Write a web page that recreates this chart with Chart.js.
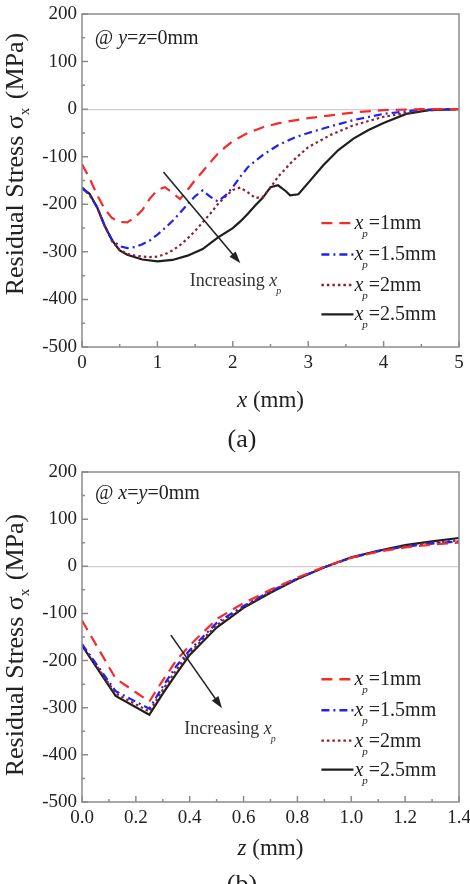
<!DOCTYPE html>
<html>
<head>
  <title>Residual stress profiles</title>
  <script src="https://cdn.jsdelivr.net/npm/chart.js"></script>
  <style>
    body { margin: 0; background: #fff; }
    #wrap { position: relative; width: 470px; height: 884px; overflow: hidden; }
    canvas { position: absolute; left: 0; }
    #chartA { top: 0; }
    #chartB { top: 440px; }
    .cap { position: absolute; left: 7px; width: 470px; text-align: center;
           font: 26px "Liberation Serif", "Times New Roman", serif; line-height: 26px; color: #222; }
  </style>
</head>
<body>
<div id="wrap">
  <canvas id="chartA" width="470" height="440"></canvas>
  <canvas id="chartB" width="470" height="444"></canvas>
  <div class="cap" style="top:426px">(a)</div>
  <div class="cap" style="top:871px">(b)</div>
</div>

<script>
  const FONT = '"Liberation Serif", "Times New Roman", serif';
  const INK = '#222';

  // (a) sigma_x along x at y=z=0, one curve per xp
  const xA1 = [0, 0.1, 0.2, 0.3, 0.4, 0.5, 0.6, 0.7, 0.8, 0.9, 1.0, 1.1, 1.2, 1.3, 1.4, 1.5, 1.6, 1.7, 1.8, 1.9, 2.0, 2.2, 2.4, 2.6, 2.8, 3.0, 3.3, 3.6, 4.0, 4.5, 5.0];
  const sA1 = [-116, -145, -180, -210, -229, -237, -238, -228, -212, -188, -170, -164, -176, -189, -170, -149, -131, -112, -94, -80, -67, -50, -38, -30, -24, -19, -13, -7, -2, 0, 0];
  const xA2 = [0, 0.1, 0.2, 0.3, 0.4, 0.5, 0.6, 0.7, 0.8, 0.9, 1.0, 1.1, 1.2, 1.3, 1.4, 1.5, 1.6, 1.7, 1.8, 1.9, 2.0, 2.1, 2.2, 2.4, 2.6, 2.8, 3.0, 3.3, 3.6, 4.0, 4.5, 5.0];
  const sA2 = [-165, -180, -206, -245, -275, -288, -292, -290, -284, -276, -264, -250, -235, -218, -200, -183, -171, -184, -194, -182, -164, -142, -122, -96, -76, -61, -50, -36, -23, -10, -1, 0];
  const xA3 = [0, 0.1, 0.2, 0.3, 0.4, 0.5, 0.6, 0.7, 0.8, 0.9, 1.0, 1.1, 1.2, 1.3, 1.4, 1.5, 1.6, 1.7, 1.8, 1.9, 2.0, 2.1, 2.2, 2.3, 2.4, 2.5, 2.6, 2.8, 3.0, 3.3, 3.6, 4.0, 4.5, 5.0];
  const sA3 = [-165, -180, -206, -245, -278, -296, -304, -308, -310, -311, -310, -305, -297, -286, -272, -256, -238, -220, -200, -184, -170, -165, -175, -187, -184, -165, -142, -108, -80, -54, -34, -16, -3, 0];
  const xA4 = [0, 0.1, 0.2, 0.3, 0.4, 0.5, 0.6, 0.8, 1.0, 1.2, 1.4, 1.6, 1.8, 2.0, 2.1, 2.2, 2.3, 2.4, 2.5, 2.6, 2.7, 2.76, 2.87, 3.0, 3.2, 3.4, 3.6, 3.8, 4.0, 4.3, 4.6, 5.0];
  const sA4 = [-166, -178, -206, -245, -276, -297, -306, -316, -320, -317, -308, -294, -270, -250, -236, -220, -202, -186, -164, -160, -172, -181, -179, -155, -118, -86, -62, -44, -29, -10, -2, 0];

  // (b) sigma_x along z at x=y=0
  const zB = [0, 0.125, 0.25, 0.3, 0.35, 0.4, 0.5, 0.6, 0.7, 0.8, 0.9, 1.0, 1.1, 1.2, 1.3, 1.4];
  const sB1 = [-115, -238, -287, -242, -200, -168, -112, -78, -50, -24, -1, 18, 31, 40, 46, 50];
  const sB2 = [-165, -265, -302, -255, -212, -178, -120, -84, -53, -26, -2, 18, 32, 42, 48, 53];
  const sB3 = [-166, -270, -308, -262, -220, -183, -125, -86, -54, -26, -2, 18, 32, 43, 50, 55];
  const sB4 = [-168, -275, -315, -270, -228, -188, -130, -88, -56, -27, -2, 19, 33, 45, 53, 60];

  const seriesNames = ['=1mm', '=1.5mm', '=2mm', '=2.5mm'];
  const seriesColors = ['#f52b2b', '#1f22f0', '#8e1f35', '#1e1e1e'];
  const seriesDash = [[11, 7], [8, 4, 2, 4], [2.5, 3], []];

  // annotation anchors in data units
  const noteA = { x: 0.17, y: 137 }, noteB = { x: 0.048, y: 142 };
  const incA = { x: 1.43, y: -372 }, incB = { x: 0.38, y: -355 };
  const arrowA = [{ x: 1.08, y: -132 }, { x: 2.1, y: -324 }];
  const arrowB = [{ x: 0.33, y: -146 }, { x: 0.52, y: -301 }];

  function pts(xs, ys) { return xs.map((x, i) => ({ x: x, y: ys[i] })); }

  function runFont(r) { return (r.it ? 'italic ' : '') + r.size + 'px ' + FONT; }
  function runsWidth(ctx, runs) {
    let w = 0;
    runs.forEach(r => { ctx.font = runFont(r); w += ctx.measureText(r.t).width + (r.gap || 0); });
    return w;
  }
  function drawRuns(ctx, x, y, runs) {
    let cx = x;
    runs.forEach(r => {
      ctx.font = runFont(r);
      ctx.fillText(r.t, cx, y + (r.dy || 0));
      cx += ctx.measureText(r.t).width + (r.gap || 0);
    });
  }
  function xpRuns(rest, size) {
    return [{ t: 'x', it: true, size: size, gap: -1 }, { t: 'p', it: true, size: 11, dy: 8, gap: 1 }, { t: rest, size: size }];
  }

  const deco = {
    id: 'deco',
    afterDraw(chart, args, o) {
      const ctx = chart.ctx, a = chart.chartArea, xs = chart.scales.x, ys = chart.scales.y;
      ctx.save();
      // frame
      ctx.strokeStyle = '#8c8c8c';
      ctx.lineWidth = 1.5;
      ctx.strokeRect(a.left, a.top, a.right - a.left, a.bottom - a.top);
      // inward ticks
      ctx.beginPath();
      ys.ticks.forEach(t => {
        const p = ys.getPixelForValue(t.value);
        const L = t.value % 100 === 0 ? 6 : 3;
        ctx.moveTo(a.left, p); ctx.lineTo(a.left + L, p);
      });
      xs.ticks.forEach(t => {
        const p = xs.getPixelForValue(t.value);
        const q = t.value / o.xMajor;
        const L = Math.abs(q - Math.round(q)) < 1e-6 ? 6 : 3;
        ctx.moveTo(p, a.bottom); ctx.lineTo(p, a.bottom - L);
      });
      ctx.stroke();

      ctx.fillStyle = INK;
      ctx.textBaseline = 'alphabetic';
      ctx.textAlign = 'left';

      // y title
      const yRuns = [{ t: 'Residual Stress σ', size: 26 }, { t: 'x', size: 15, dy: 6, gap: 2 }, { t: ' (MPa)', size: 26 }];
      ctx.save();
      ctx.translate(23, o.yTitleY);
      ctx.rotate(-Math.PI / 2);
      drawRuns(ctx, -runsWidth(ctx, yRuns) / 2, 0, yRuns);
      ctx.restore();

      // x title
      const xRuns = [{ t: o.xVar, it: true, size: 23 }, { t: ' (mm)', size: 23 }];
      drawRuns(ctx, (a.left + a.right) / 2 - runsWidth(ctx, xRuns) / 2, o.xTitleY, xRuns);

      // position note
      drawRuns(ctx, xs.getPixelForValue(o.note.x), ys.getPixelForValue(o.note.y), o.noteRuns);

      // increasing xp
      ctx.fillStyle = '#333';
      drawRuns(ctx, xs.getPixelForValue(o.inc.x), ys.getPixelForValue(o.inc.y),
        [{ t: 'Increasing ', size: 18 }, { t: 'x', it: true, size: 18, gap: -1 }, { t: 'p', it: true, size: 10, dy: 8 }]);

      // arrow
      const x0 = xs.getPixelForValue(o.arrow[0].x), y0 = ys.getPixelForValue(o.arrow[0].y);
      const x1 = xs.getPixelForValue(o.arrow[1].x), y1 = ys.getPixelForValue(o.arrow[1].y);
      const ang = Math.atan2(y1 - y0, x1 - x0);
      ctx.strokeStyle = '#222';
      ctx.fillStyle = '#222';
      ctx.lineWidth = 1.6;
      ctx.beginPath();
      ctx.moveTo(x0, y0);
      ctx.lineTo(x1 - 8 * Math.cos(ang), y1 - 8 * Math.sin(ang));
      ctx.stroke();
      ctx.beginPath();
      ctx.moveTo(x1, y1);
      ctx.lineTo(x1 - 12 * Math.cos(ang) + 4 * Math.sin(ang), y1 - 12 * Math.sin(ang) - 4 * Math.cos(ang));
      ctx.lineTo(x1 - 12 * Math.cos(ang) - 4 * Math.sin(ang), y1 - 12 * Math.sin(ang) + 4 * Math.cos(ang));
      ctx.closePath();
      ctx.fill();

      // legend
      const w = a.right - a.left, h = a.bottom - a.top;
      const rows = [0.628, 0.722, 0.814, 0.902];
      chart.data.datasets.forEach((ds, i) => {
        const ly = a.top + rows[i] * h;
        const lx0 = a.left + 0.635 * w, lx1 = a.left + 0.72 * w;
        ctx.save();
        ctx.strokeStyle = ds.borderColor;
        ctx.lineWidth = 2.4;
        ctx.setLineDash(ds.borderDash);
        ctx.beginPath();
        ctx.moveTo(lx0, ly); ctx.lineTo(lx1, ly);
        ctx.stroke();
        ctx.restore();
        ctx.fillStyle = INK;
        drawRuns(ctx, lx1 + 1, ly + 6, xpRuns(seriesNames[i], 20));
      });
      ctx.restore();
    }
  };

  function makeChart(id, lines, opt) {
    const datasets = lines.map((d, i) => ({
      label: seriesNames[i],
      data: d,
      showLine: true,
      borderColor: seriesColors[i],
      borderDash: seriesDash[i],
      borderWidth: 2.2,
      pointRadius: 0,
      tension: 0,
      fill: false,
      order: i - 4 // red drawn last, on top
    }));
    return new Chart(document.getElementById(id), {
      type: 'scatter',
      data: { datasets: datasets },
      options: {
        responsive: false,
        animation: false,
        devicePixelRatio: 1,
        layout: { padding: { top: opt.padTop, right: 11, left: 0, bottom: 0 } },
        plugins: { legend: { display: false }, tooltip: { enabled: false }, deco: opt.deco },
        scales: {
          x: {
            type: 'linear', min: opt.xMin, max: opt.xMax,
            ticks: {
              stepSize: opt.xStep, autoSkip: false, maxRotation: 0, padding: 5,
              color: INK, font: { family: FONT, size: 19 },
              callback: opt.xLabel
            },
            grid: { display: false, drawTicks: false },
            border: { display: false },
            afterFit: s => { s.height = opt.xHeight; s.paddingLeft = 0; s.paddingRight = 0; }
          },
          y: {
            min: -500, max: 200,
            ticks: {
              stepSize: 50, autoSkip: false, padding: 5,
              color: INK, font: { family: FONT, size: 19 },
              callback: v => (v % 100 === 0 ? String(v) : '')
            },
            grid: {
              drawTicks: false,
              color: c => (c.tick && c.tick.value === 0 ? '#cfcfcf' : 'rgba(0,0,0,0)'),
              lineWidth: 1.2
            },
            border: { display: false },
            afterFit: s => { s.width = 82; s.paddingTop = 0; s.paddingBottom = 0; }
          }
        }
      },
      plugins: [deco]
    });
  }

  makeChart('chartA', [pts(xA1, sA1), pts(xA2, sA2), pts(xA3, sA3), pts(xA4, sA4)], {
    padTop: 14, xHeight: 93, xMin: 0, xMax: 5, xStep: 0.5,
    xLabel: v => (Number.isInteger(v) ? String(v) : ''),
    deco: {
      xMajor: 1, yTitleY: 164, xTitleY: 407, xVar: 'x',
      note: noteA, inc: incA, arrow: arrowA,
      noteRuns: [{ t: '@ ', size: 20 }, { t: 'y', it: true, size: 20 }, { t: '=', size: 20 }, { t: 'z', it: true, size: 20 }, { t: '=0mm', size: 20 }]
    }
  });

  makeChart('chartB', [pts(zB, sB1), pts(zB, sB2), pts(zB, sB3), pts(zB, sB4)], {
    padTop: 32, xHeight: 82, xMin: 0, xMax: 1.4, xStep: 0.1,
    xLabel: v => (Math.round(v * 10) % 2 === 0 ? v.toFixed(1) : ''),
    deco: {
      xMajor: 0.2, yTitleY: 205, xTitleY: 415, xVar: 'z',
      note: noteB, inc: incB, arrow: arrowB,
      noteRuns: [{ t: '@ ', size: 20 }, { t: 'x', it: true, size: 20 }, { t: '=', size: 20 }, { t: 'y', it: true, size: 20 }, { t: '=0mm', size: 20 }]
    }
  });
</script>
</body>
</html>
